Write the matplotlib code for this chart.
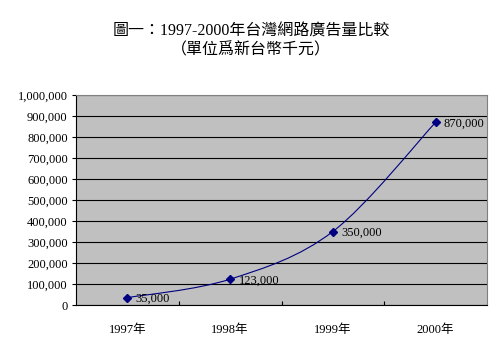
import matplotlib.pyplot as plt
from matplotlib.path import Path
from matplotlib.patches import PathPatch
from matplotlib.ticker import FuncFormatter, FixedLocator

plt.rcParams['font.family'] = ['Liberation Serif', 'Noto Sans CJK TC']

years = ['1997年', '1998年', '1999年', '2000年']
values = [35000, 123000, 350000, 870000]
value_labels = ['35,000', '123,000', '350,000', '870,000']
title = '圖一：1997-2000年台灣網路廣告量比較\n（單位爲新台幣千元）'

fig = plt.figure(figsize=(5.02, 3.56), dpi=100)
ax = fig.add_axes([76 / 502, 1 - 305 / 356, 411 / 502, 210 / 356])
ax.set_facecolor('#C0C0C0')

xs = list(range(len(values)))

# smoothed line (Excel style bezier through the points)
pts = list(zip(xs, values))
verts = [pts[0]]
codes = [Path.MOVETO]
for i in range(len(pts) - 1):
    p0 = pts[i - 1] if i > 0 else pts[i]
    p1 = pts[i]
    p2 = pts[i + 1]
    p3 = pts[i + 2] if i + 2 < len(pts) else pts[i + 1]
    c1 = (p1[0] + (p2[0] - p0[0]) / 6, p1[1] + (p2[1] - p0[1]) / 6)
    c2 = (p2[0] - (p3[0] - p1[0]) / 6, p2[1] - (p3[1] - p1[1]) / 6)
    verts += [c1, c2, p2]
    codes += [Path.CURVE4] * 3
ax.add_patch(PathPatch(Path(verts, codes), facecolor='none',
                       edgecolor='#000080', linewidth=0.8, zorder=3))
ax.plot(xs, values, linestyle='none', marker='D', markersize=4,
        color='#000080', zorder=4)

for x, v, lab in zip(xs, values, value_labels):
    ax.annotate(lab, (x, v), xytext=(6, -1), textcoords='offset points',
                ha='left', va='center', fontsize=9, color='black', zorder=5)

ax.set_xlim(-0.5, 3.5)
ax.set_ylim(0, 1000000)
ax.yaxis.set_major_locator(FixedLocator(range(0, 1000001, 100000)))
ax.yaxis.set_major_formatter(FuncFormatter(lambda v, p: f'{int(v):,}'))
ax.grid(axis='y', color='black', linewidth=0.8)
ax.set_axisbelow(True)

ax.set_xticks(xs)
ax.set_xticklabels(years, fontsize=9)
ax.tick_params(axis='x', length=0, pad=14)
ax.set_xticks([0.5, 1.5, 2.5], minor=True)
ax.tick_params(axis='x', which='minor', direction='in', length=3,
               width=0.8, color='black')
ax.tick_params(axis='y', direction='out', length=3, width=0.8,
               labelsize=9, pad=3)

for side in ['top', 'right']:
    ax.spines[side].set_color('#808080')
    ax.spines[side].set_linewidth(0.8)
for side in ['left', 'bottom']:
    ax.spines[side].set_color('black')
    ax.spines[side].set_linewidth(0.8)

fig.text(0.5, 1 - 41 / 356, title, ha='center', va='center',
         fontsize=11.5, linespacing=1.3)

fig.savefig('out.png', dpi=100, facecolor='white')
